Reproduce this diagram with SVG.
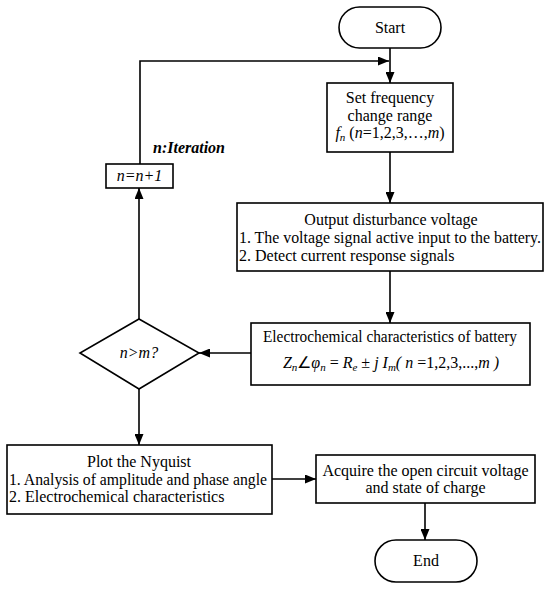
<svg xmlns="http://www.w3.org/2000/svg" width="550" height="592" viewBox="0 0 550 592" font-family="'Liberation Serif', 'Times New Roman', Tinos, serif">
<style>
.box{fill:#fff;stroke:#000;stroke-width:1.6}
.ln{fill:none;stroke:#000;stroke-width:1.6}
text{font-family:"Liberation Serif","Times New Roman",Tinos,serif;font-size:16px;fill:#000}
.c{text-anchor:middle}
.i{font-style:italic}
.sub{font-size:11px;font-style:italic}
</style>
<defs>
<marker id="ah" markerUnits="userSpaceOnUse" markerWidth="11" markerHeight="9" refX="11" refY="4.5" orient="auto">
<path d="M0,0 L11,4.5 L0,9 z" fill="#000"/>
</marker>
</defs>
<rect width="550" height="592" fill="#fff"/>
<g id="connectors">
<line class="ln" x1="390" y1="48" x2="390" y2="83" marker-end="url(#ah)"/>
<polyline class="ln" points="140,164 140,61 389,61" marker-end="url(#ah)"/>
<line class="ln" x1="390" y1="152" x2="390" y2="203" marker-end="url(#ah)"/>
<line class="ln" x1="390" y1="271" x2="390" y2="323" marker-end="url(#ah)"/>
<line class="ln" x1="251" y1="353" x2="199" y2="353" marker-end="url(#ah)"/>
<line class="ln" x1="139" y1="319" x2="139" y2="188" marker-end="url(#ah)"/>
<line class="ln" x1="139" y1="389" x2="139" y2="445" marker-end="url(#ah)"/>
<line class="ln" x1="272" y1="479" x2="316" y2="479" marker-end="url(#ah)"/>
<line class="ln" x1="425" y1="503" x2="425" y2="540" marker-end="url(#ah)"/>
</g>
<g id="start">
<rect class="box" x="339" y="7" width="102" height="41" rx="20.5"/>
<text class="c" x="390" y="33">Start</text>
</g>
<g id="set-frequency">
<rect class="box" x="327" y="83" width="126" height="69"/>
<text class="c" x="390" y="103">Set frequency</text>
<text class="c" x="390" y="121">change range</text>
<text class="c" x="390" y="138"><tspan class="i">f</tspan><tspan class="sub" dy="3">n</tspan><tspan dy="-3"> (</tspan><tspan class="i">n</tspan>=1,2,3,…,<tspan class="i">m</tspan>)</text>
</g>
<g id="output-voltage">
<rect class="box" x="237" y="203" width="306" height="68"/>
<text class="c" x="391" y="225">Output disturbance voltage</text>
<text x="239" y="243" textLength="302" lengthAdjust="spacingAndGlyphs">1. The voltage signal active input to the battery.</text>
<text x="239" y="261">2. Detect current response signals</text>
</g>
<g id="electrochemical">
<rect class="box" x="251" y="323" width="279" height="62"/>
<text class="c" x="390" y="342" textLength="254" lengthAdjust="spacingAndGlyphs">Electrochemical characteristics of battery</text>
<text class="c i" x="391" y="368">Z<tspan class="sub" dy="3">n</tspan><tspan dy="-3" font-style="normal">∠</tspan>φ<tspan class="sub" dy="3">n</tspan><tspan dy="-3" font-style="normal"> = </tspan>R<tspan class="sub" dy="3">e</tspan><tspan dy="-3" font-style="normal"> ± </tspan>j I<tspan class="sub" dy="3">m</tspan><tspan dy="-3">( n</tspan><tspan font-style="normal"> =1,2,3,...,</tspan>m )</text>
</g>
<g id="iteration-label">
<text x="153" y="153" font-weight="bold" font-style="italic" font-size="15">n:Iteration</text>
</g>
<g id="increment">
<rect class="box" x="106" y="164" width="67" height="24"/>
<text class="c i" x="139.5" y="181" font-size="15">n=n+1</text>
</g>
<g id="decision">
<polygon class="box" points="139,319 199,353 139,389 80,353"/>
<text class="c i" x="139" y="358">n&gt;m?</text>
</g>
<g id="plot-nyquist">
<rect class="box" x="7" y="445" width="265" height="69"/>
<text class="c" x="139" y="467">Plot the Nyquist</text>
<text x="9" y="485" textLength="258" lengthAdjust="spacingAndGlyphs">1. Analysis of amplitude and phase angle</text>
<text x="9" y="502">2. Electrochemical characteristics</text>
</g>
<g id="acquire">
<rect class="box" x="316" y="455" width="219" height="48"/>
<text class="c" x="425.5" y="476">Acquire the open circuit voltage</text>
<text class="c" x="425.5" y="493">and state of charge</text>
</g>
<g id="end">
<rect class="box" x="375" y="540" width="102" height="42" rx="21"/>
<text class="c" x="426" y="566">End</text>
</g>
</svg>
